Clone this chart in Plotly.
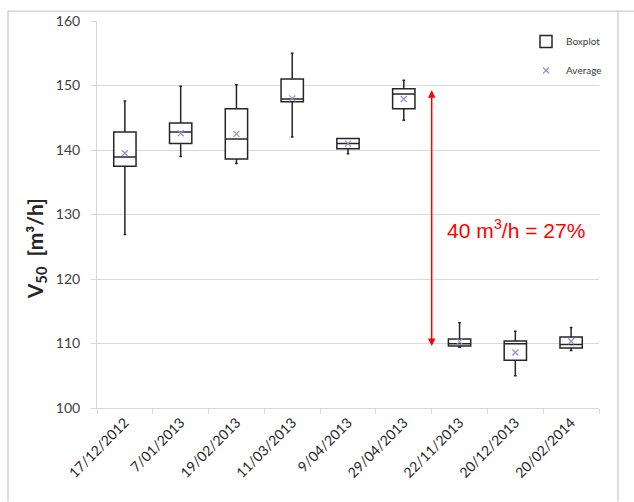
import plotly.graph_objects as go

categories = ["17/12/2012", "7/01/2013", "19/02/2013", "11/03/2013", "9/04/2013",
              "29/04/2013", "22/11/2013", "20/12/2013", "20/02/2014"]
lower_whisker = [126.9, 139.0, 137.9, 142.0, 139.4, 144.6, 109.4, 105.0, 108.9]
q1_values     = [137.5, 141.0, 138.6, 147.5, 140.2, 146.4, 109.6, 107.4, 109.3]
median_values = [138.9, 142.8, 141.7, 147.9, 141.0, 148.7, 109.95, 109.95, 109.85]
q3_values     = [142.8, 144.2, 146.4, 151.0, 141.8, 149.5, 110.7, 110.4, 111.0]
upper_whisker = [147.6, 149.9, 150.1, 155.0, 141.8, 150.8, 113.2, 111.9, 112.5]
average_values = [139.5, 142.6, 142.5, 148.0, 141.0, 147.9, 110.3, 108.6, 110.35]

arrow_top = 149.5
arrow_bottom = 109.6
arrow_label = "40 m<sup>3</sup>/h = 27%"
y_title = "<b>V<sub>50</sub>  [m³/h]</b>"

W, H = 634, 502
L, R, T, B = 97, 35, 18, 94
pw, ph = W - L - R, H - T - B

def px(x):
    return (x - L) / pw

def py(y):
    return 1 - (y - T) / ph

fig = go.Figure()
fig.add_trace(go.Box(
    x=categories, q1=q1_values, median=median_values, q3=q3_values,
    lowerfence=lower_whisker, upperfence=upper_whisker,
    name="Boxplot", fillcolor="white", line=dict(color="#262626", width=1.5),
    whiskerwidth=0.12, width=0.4, legendgroup="a", hoverinfo="skip",
))
fig.add_trace(go.Scatter(
    x=categories, y=average_values, mode="markers", name="Average",
    marker=dict(symbol="x-thin", size=6, line=dict(color="#9b8fc9", width=1.2), color="#9b8fc9"),
    legendgroup="b",
))

fig.add_annotation(x=5.5, y=arrow_bottom, ax=5.5, ay=arrow_top, axref="x", ayref="y",
                   xref="x", yref="y", showarrow=True, arrowhead=2, startarrowhead=2,
                   arrowside="end+start", arrowcolor="#ff0000", arrowwidth=1.5, arrowsize=1,
                   startarrowsize=1, text="")
fig.add_annotation(x=px(445), y=py(228), xref="paper", yref="paper", xanchor="left",
                   yanchor="middle", showarrow=False, text=arrow_label,
                   font=dict(family="Liberation Sans, Arial", size=21, color="#ff0000"))
fig.add_annotation(x=px(36), y=py(248), xref="paper", yref="paper", xanchor="center",
                   yanchor="middle", showarrow=False, text=y_title, textangle=-90,
                   font=dict(size=21, color="#262626"))

# outer frame
fig.add_shape(type="line", xref="paper", yref="paper", x0=px(8), x1=px(634), y0=py(8), y1=py(8),
              line=dict(color="#bfbfbf", width=1))
fig.add_shape(type="line", xref="paper", yref="paper", x0=px(8), x1=px(8), y0=py(8), y1=py(502),
              line=dict(color="#bfbfbf", width=1))
fig.add_shape(type="line", xref="paper", yref="paper", x0=px(618), x1=px(618), y0=py(8), y1=py(502),
              line=dict(color="#bfbfbf", width=1))

fig.update_layout(
    width=W, height=H, margin=dict(l=L, r=R, t=T, b=B),
    paper_bgcolor="white", plot_bgcolor="white",
    font=dict(family="Lato, Carlito, Calibri, sans-serif", color="#404040"),
    showlegend=True,
    legend=dict(x=px(526), y=py(24), xanchor="left", yanchor="top",
                font=dict(size=10, color="#404040"), bgcolor="rgba(0,0,0,0)",
                tracegroupgap=10, traceorder="grouped", itemwidth=30),
    xaxis=dict(type="category", range=[-0.5, 8.5], tickangle=-45, tickfont=dict(size=14, color="#262626"),
               showgrid=False, showline=True, linecolor="#d9d9d9", linewidth=1,
               ticks="outside", tickson="boundaries", ticklen=5, tickcolor="#d9d9d9", zeroline=False),
    yaxis=dict(range=[100, 160], dtick=10, tickfont=dict(size=14, color="#404040"),
               showgrid=True, gridcolor="#d9d9d9", gridwidth=1, ticklabelstandoff=8,
               showline=True, linecolor="#d9d9d9", ticks="outside", ticklen=5, tickcolor="#d9d9d9",
               zeroline=False),
)

fig.write_html("out.html")
